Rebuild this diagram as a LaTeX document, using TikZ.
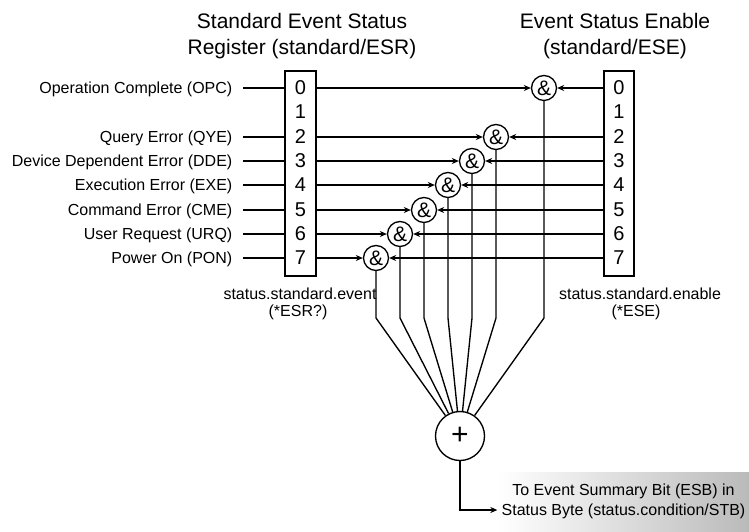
\documentclass[tikz,border=0pt]{standalone}
\usepackage{fontspec}
\setmainfont{Liberation Sans}
\usetikzlibrary{arrows.meta}
\begin{document}
\begin{tikzpicture}[x=1pt,y=-1pt, line width=1.35pt,
  lbl/.style={font=\fontsize{16}{18}\selectfont, inner sep=0pt},
  ttl/.style={font=\fontsize{21}{24}\selectfont, inner sep=0pt, anchor=base},
  reg/.style={draw, minimum width=31pt, minimum height=205pt, inner sep=0pt},
  digit/.style={font=\fontsize{20}{20}\selectfont, inner sep=0pt},
  andg/.style={draw, circle, minimum size=25pt, inner sep=0pt, font=\fontsize{21}{21}\selectfont},
  sumg/.style={draw, circle, minimum size=49pt, inner sep=0pt, font=\fontsize{30}{30}\selectfont},
  arr/.style={-{Stealth[length=7pt,width=6pt]}},
  outbox/.style={left color=white, right color=black!27, minimum width=251pt, minimum height=59pt,
    inner sep=0pt, align=center, font=\fontsize{16}{20}\selectfont}
]
\useasboundingbox (0,0) rectangle (749,531);

% output box (background)
\node[outbox, shade] (esb) at (623.5,501.5) {To Event Summary Bit (ESB) in\\Status Byte (status.condition/STB)};

% titles
\node[ttl] (t1a) at (302,28.5) {Standard Event Status};
\node[ttl] (t1b) at (302,54.5) {Register (standard/ESR)};
\node[ttl] (t2a) at (615,28.5) {Event Status Enable};
\node[ttl] (t2b) at (615,54.5) {(standard/ESE)};

% registers
\node[reg] (esr) at (300.5,173.5) {};
\node[reg, minimum width=30pt] (ese) at (619,173.5) {};

% digits
\foreach \r in {0,...,7}{
  \pgfmathsetmacro{\yy}{round(88+\r*24.3)}
  \node[digit] (d\r) at (300.5,\yy) {\r};
  \node[digit] (e\r) at (619,\yy) {\r};
}

% register labels
\node[lbl, anchor=base] (sse) at (300,299) {status.standard.event};
\node[lbl, anchor=base] (ssr) at (298,316) {(*ESR?)};
\node[lbl, anchor=base] (ssn) at (640,299) {status.standard.enable};
\node[lbl, anchor=base] (sss) at (636,316) {(*ESE)};

% sum gate
\node[sumg] (sum) at (460,436) {+};
\coordinate (bend) at (0,318);
\coordinate (out) at (460,510);

% input labels, AND gates and connectors
\foreach \r/\t in {0/Operation Complete (OPC), 2/Query Error (QYE), 3/Device Dependent Error (DDE),
  4/Execution Error (EXE), 5/Command Error (CME), 6/User Request (URQ), 7/Power On (PON)}{
  \pgfmathsetmacro{\yc}{round(88+\r*24.3)}
  \pgfmathsetmacro{\yy}{\yc+5.8}
  \pgfmathsetmacro{\xx}{ifthenelse(\r==0,544,376+(7-\r)*24)}
  \node[lbl, anchor=base east] (l\r) at (233,\yy) {\t};
  \node[andg] (a\r) at (\xx,\yc) {\&};
  \draw (d\r -| l\r.east) ++(10,0) -- (esr.west |- d\r);
  \draw[arr] (esr.east |- d\r) -- (a\r);
  \draw[arr] (ese.west |- e\r) -- (a\r);
  \draw (a\r) -- (a\r |- bend) -- (sum);
}

% output
\draw[arr] (sum) -- (out) -- (esb.west |- out);
\end{tikzpicture}
\end{document}
